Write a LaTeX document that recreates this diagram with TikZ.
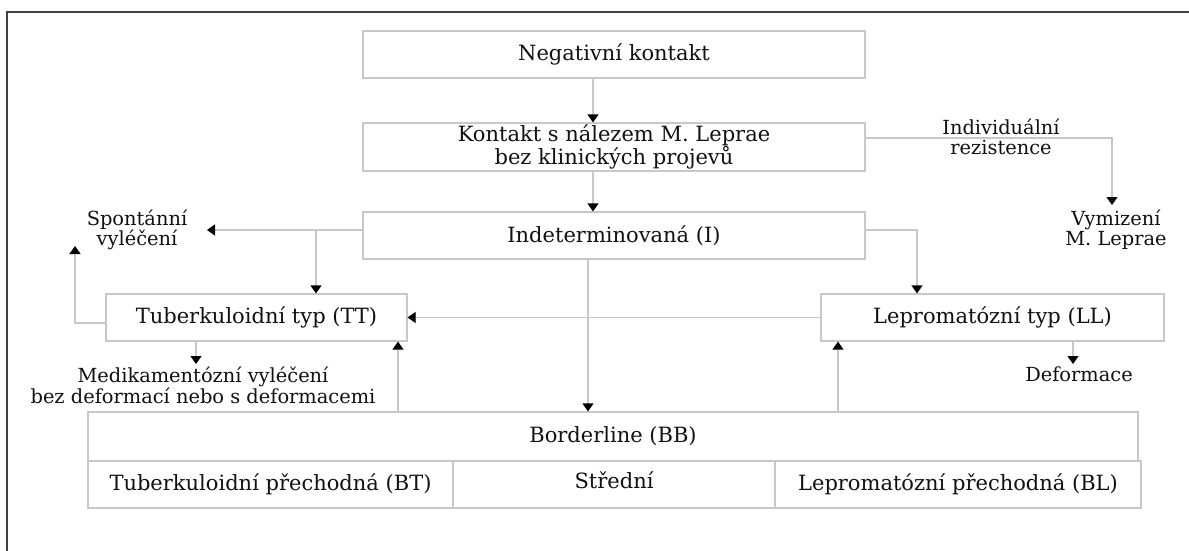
\documentclass[tikz,border=0pt]{standalone}
\usepackage{fontspec}
\setmainfont{DejaVu Serif}
\usetikzlibrary{arrows.meta,calc}
\definecolor{boxline}{HTML}{C8C8C8}
\definecolor{frameline}{HTML}{404040}
\definecolor{txt}{HTML}{111111}
\begin{document}
\begin{tikzpicture}[x=1pt,y=-1pt,
  box/.style={draw=boxline,line width=1.2pt,rectangle,inner sep=0pt,text=txt,
    font=\fontsize{21}{22.5}\selectfont,align=center},
  lbl/.style={inner sep=0pt,text=txt,font=\fontsize{19.4}{19.8}\selectfont,align=center},
  conn/.style={draw=boxline,line width=1.2pt},
  arr/.style={conn,-{Triangle[length=8pt,width=11pt,color=black]}}]
\useasboundingbox (0,0) rectangle (1189,551);
\fill[white] (0,0) rectangle (1189,551);
% frame
\draw[frameline,line width=1.5pt] (7,12) -- (1189,12);
\draw[frameline,line width=2.8pt] (7,11.3) -- (7,551);
% boxes
\node[box,minimum width=502pt,minimum height=47pt] (neg) at (614,54.5) {Negativní kontakt};
\node[box,minimum width=502pt,minimum height=48pt] (kont) at (614,147) {Kontakt s nálezem M. Leprae\\bez klinických projevů};
\node[box,minimum width=502pt,minimum height=47pt] (ind) at (614,235.5) {Indeterminovaná (I)};
\node[box,minimum width=301pt,minimum height=47pt] (tt) at (256.5,317.5) {Tuberkuloidní typ (TT)};
\node[box,minimum width=343pt,minimum height=47pt] (ll) at (992.5,317.5) {Lepromatózní typ (LL)};
\node[box,minimum width=1050pt,minimum height=49pt] (bb) at (613,436.5) {Borderline (BB)};
\node[box,minimum width=365pt,minimum height=47pt] (bt) at (270.5,484.5) {Tuberkuloidní přechodná (BT)};
\node[box,minimum width=322pt,minimum height=47pt,text depth=9pt] (str) at (614,484.5) {Střední};
\node[box,minimum width=366pt,minimum height=47pt] (bl) at (958,484.5) {Lepromatózní přechodná (BL)};
% labels
\node[lbl] (spont) at (137,229.5) {Spontánní\\vyléčení};
\node[lbl] (indiv) at (1001,137) {Individuální\\rezistence};
\node[lbl] (vym) at (1116,230) {Vymizení\\M. Leprae};
\node[lbl] (medik) at (203,385.5) {Medikamentózní vyléčení\\bez deformací nebo s deformacemi};
\node[lbl] (deform) at (1079,374) {Deformace};
% helper coordinates
\coordinate (xMain) at (593,0);
\coordinate (xBB) at (588,0);
\coordinate (j1) at (316,230);
\coordinate (spontTip) at (207,230);
\coordinate (j2) at (917,230);
\coordinate (j3) at (75,323);
\coordinate (spontUp) at (75,246);
\coordinate (j4) at (1112,138);
\coordinate (vymTip) at (1112,205);
\coordinate (xTT) at (398,0);
\coordinate (xLL) at (838,0);
\coordinate (xMed) at (196,0);
\coordinate (medTip) at (196,364);
\coordinate (xDef) at (1073,0);
\coordinate (defTip) at (1073,364);
% connectors
\draw[arr] (neg.south -| xMain) -- (kont.north -| xMain);
\draw[arr] (kont.south -| xMain) -- (ind.north -| xMain);
\draw[arr] (ind.west |- j1) -- (spontTip);
\draw[arr] (j1) -- (j1 |- tt.north);
\draw[arr] (ind.east |- j2) -- (j2) -- (j2 |- ll.north);
\draw[arr] (kont.east |- j4) -- (j4) -- (vymTip);
\draw[arr] (ind.south -| xBB) -- (bb.north -| xBB);
\draw[arr] (ll.west) -- (tt.east);
\draw[arr] (bb.north -| xTT) -- (tt.south -| xTT);
\draw[arr] (bb.north -| xLL) -- (ll.south -| xLL);
\draw[arr] (tt.west |- j3) -- (j3) -- (spontUp);
\draw[arr] (tt.south -| xMed) -- (medTip);
\draw[arr] (ll.south -| xDef) -- (defTip);
\end{tikzpicture}
\end{document}
